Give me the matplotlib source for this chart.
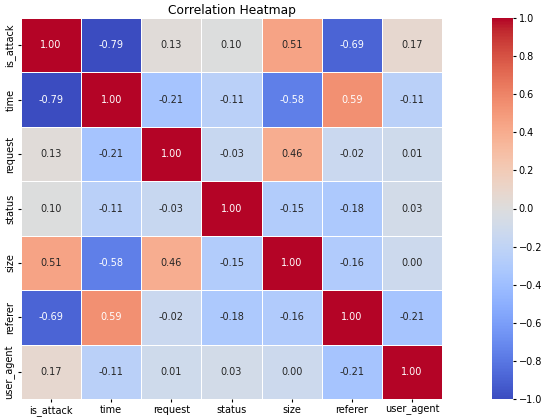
import numpy as np
import pandas as pd
import matplotlib
matplotlib.use("Agg")
import matplotlib.pyplot as plt
import matplotlib.colors as mcolors
import seaborn as sns

# ── data ──────────────────────────────────────────────────────────────────────
labels = ["is_attack", "time", "request", "status", "size", "referer", "user_agent"]

corr_rows = [
    [ 1.00, -0.79,  0.13,  0.10,  0.51, -0.69,  0.17],
    [-0.79,  1.00, -0.21, -0.11, -0.58,  0.59, -0.11],
    [ 0.13, -0.21,  1.00, -0.03,  0.46, -0.02,  0.01],
    [ 0.10, -0.11, -0.03,  1.00, -0.15, -0.18,  0.03],
    [ 0.51, -0.58,  0.46, -0.15,  1.00, -0.16,  0.00],
    [-0.69,  0.59, -0.02, -0.18, -0.16,  1.00, -0.21],
    [ 0.17, -0.11,  0.01,  0.03,  0.00, -0.21,  1.00],
]

corr = pd.DataFrame(np.array(corr_rows), index=labels, columns=labels)
cbar_ticks = [-1.0, -0.8, -0.6, -0.4, -0.2, 0.0, 0.2, 0.4, 0.6, 0.8, 1.0]

# ── figure ────────────────────────────────────────────────────────────────────
fig = plt.figure(figsize=(5.5, 4.17), dpi=100)
ax  = fig.add_axes([0.038, 0.043, 0.766, 0.914])
cax = fig.add_axes([0.895, 0.043, 0.038, 0.914])

# cells are coloured on the data range, the colour bar shows -1..1
sns.heatmap(corr, ax=ax, cbar=False, cmap="coolwarm",
            vmin=corr.values.min(), vmax=corr.values.max(),
            annot=True, fmt=".2f", annot_kws={"fontsize": 7},
            linewidths=0.5, linecolor="white")

sm = plt.cm.ScalarMappable(norm=mcolors.Normalize(-1, 1), cmap="coolwarm")
cb = fig.colorbar(sm, cax=cax)
cb.outline.set_visible(False)
cb.set_ticks(cbar_ticks)

ax.set_title("Correlation Heatmap", fontsize=8.8, pad=3)
ax.tick_params(axis="both", labelsize=7, length=2.5, pad=1.5)
plt.setp(ax.get_xticklabels(), rotation=0)
plt.setp(ax.get_yticklabels(), rotation=90, va="center")
cax.tick_params(labelsize=7, length=2.5, pad=1.5)

fig.savefig("out.png", dpi=100)
